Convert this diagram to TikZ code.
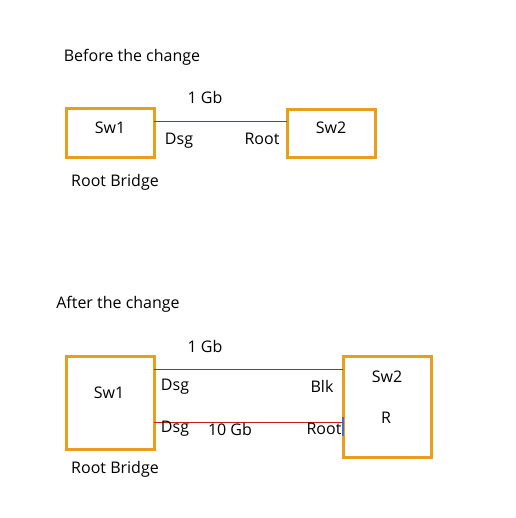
\documentclass[tikz,border=0pt]{standalone}
\usepackage{fontspec}
\setmainfont{Open Sans}
\usepackage{tikz}
\usetikzlibrary{
	positioning,
	calc
}
\definecolor{swOrange}{RGB}{230,160,30}
\definecolor{linkRed}{RGB}{200,30,30}
\definecolor{portBlue}{RGB}{70,110,190}
\tikzset{
	switch/.style={draw=swOrange, line width=3pt, inner sep=0pt},
	link/.style={linkRed, line width=0.7pt},
	lbl/.style={font=\fontsize{16}{18}\selectfont, inner sep=0pt}
}

\begin{document}
\begin{tikzpicture}[x=1pt, y=-1pt]
		\useasboundingbox (0,0) rectangle (515,518);
		% before the change
		\node[lbl] (titleA) at (132,57) {Before the change};
		\node[switch, minimum width=88pt, minimum height=49pt] (swA1) at (110,133.5) {};
		\node[switch, minimum width=88pt, minimum height=48pt] (swA2) at (331,134) {};
		\node[lbl] at (110,128) {Sw1};
		\node[lbl] at (331,128) {Sw2};
		\coordinate (pA1) at (154,121);
		\coordinate (pA2) at (287,121);
		\draw[link] (pA1) -- (pA2);
		\node[lbl] (gbA) at (205,98) {1 Gb};
		\node[lbl] (dsgA) at (179,141) {Dsg};
		\node[lbl] (rootA) at (262,139) {Root};
		\node[lbl] (rbA) at (115,182) {Root Bridge};
		% after the change
		\node[lbl] (titleB) at (118,304) {After the change};
		\node[switch, minimum width=88pt, minimum height=93pt] (swB1) at (110,402.5) {};
		\node[switch, minimum width=88pt, minimum height=101pt] (swB2) at (387,406.5) {};
		\node[lbl] at (109,393) {Sw1};
		\node[lbl] at (387,377) {Sw2};
		\node[lbl] at (386,418) {R};
		\coordinate (pB1) at (154,369);
		\coordinate (pB2) at (343,369);
		\coordinate (pB3) at (154,422);
		\coordinate (pB4) at (343,422);
		\draw[link] (pB1) -- (pB2);
		\draw[link] (pB3) -- (pB4);
		\draw[portBlue, line width=2pt] (343,417) -- (343,436);
		\node[lbl] (gbB) at (205,346) {1 Gb};
		\node[lbl] (dsgB1) at (175,387) {Dsg};
		\node[lbl] (blkB) at (322,386) {Blk};
		\node[lbl] (dsgB2) at (175,429) {Dsg};
		\node[lbl] (gbB2) at (230,429) {10 Gb};
		\node[lbl] (rootB) at (324,429) {Root};
		\node[lbl] (rbB) at (115,469) {Root Bridge};
	\end{tikzpicture}
\end{document}
